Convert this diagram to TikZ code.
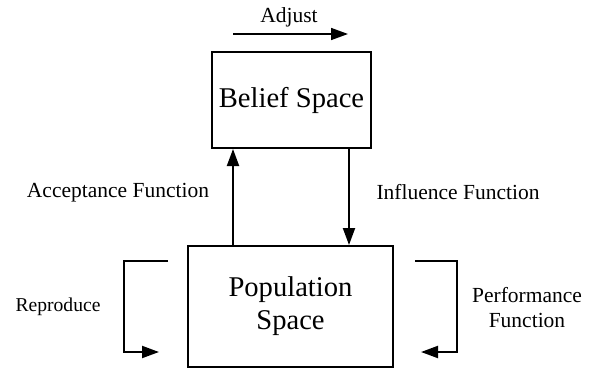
\documentclass[tikz,border=0pt]{standalone}
\usepackage{fontspec}
\setmainfont{Liberation Serif}
\usetikzlibrary{arrows.meta}

\tikzset{
  space/.style={draw, line width=2pt, inner sep=0pt, font=\fontsize{28.6}{33}\selectfont, align=center},
  lab/.style={inner sep=0pt, font=\fontsize{21.5}{25}\selectfont, align=center},
  flow/.style={line width=2pt, -{Triangle[length=17pt,width=12pt]}},
}

\begin{document}
\begin{tikzpicture}[x=1pt, y=-1pt]
\useasboundingbox (0, 0) rectangle (594, 369);
%----------------------------------------
\node[space, minimum width=159pt, minimum height=96pt] (belief) at (291.5, 100) {Belief Space};
\node[space, minimum width=205pt, minimum height=121pt] (population) at (290.5, 306.5) {Population\\Space};
%----------------------------------------
\node[lab] (adjust) at (289, 17) {Adjust};
\node[lab] (accept) at (118, 193) {Acceptance Function};
\node[lab] (influence) at (458, 192) {Influence Function};
\node[lab, font=\fontsize{19.6}{23}\selectfont] (reproduce) at (58, 307) {Reproduce};
\node[lab] (perform) at (527, 308) {Performance\\Function};
%----------------------------------------
\coordinate (A1) at (233, 34);
\coordinate (A2) at (348, 34);
\coordinate (L1) at (168, 261);
\coordinate (L2) at (124, 261);
\coordinate (L3) at (124, 352);
\coordinate (L4) at (159, 352);
\coordinate (R1) at (415, 261);
\coordinate (R2) at (457, 261);
\coordinate (R3) at (457, 352);
\coordinate (R4) at (421, 352);
%----------------------------------------
\draw[flow, line width=1.6pt] (A1)--(A2);
\draw[flow] ([xshift=22pt]belief.south west |- population.north)--([xshift=22pt]belief.south west);
\draw[flow] ([xshift=-23pt]belief.south east)--([xshift=-23pt]belief.south east |- population.north);
\draw[flow] (L1)--(L2)--(L3)--(L4);
\draw[flow] (R1)--(R2)--(R3)--(R4);
\end{tikzpicture}
\end{document}
